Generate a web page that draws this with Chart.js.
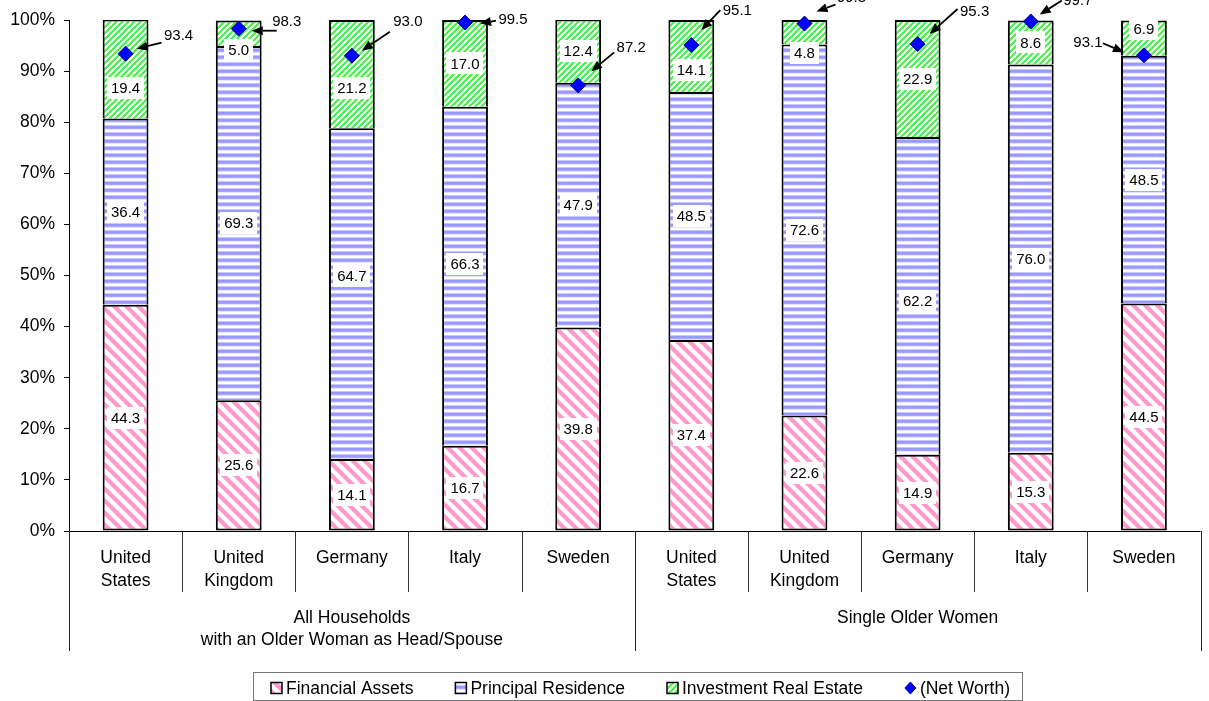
<!DOCTYPE html>
<html>
<head>
<meta charset="utf-8">
<script src="https://cdn.jsdelivr.net/npm/chart.js@4.4.1/dist/chart.umd.min.js"></script>
<style>
  html, body { margin: 0; padding: 0; background: #fff; }
  #wrap { width: 1209px; height: 701px; position: relative; }
</style>
</head>
<body>
<div id="wrap"><canvas id="c" width="1209" height="701"></canvas></div>
<script>
// Country categories (two panels of five countries each)
const categories = [
  ["United", "States"], ["United", "Kingdom"], ["Germany"], ["Italy"], ["Sweden"],
  ["United", "States"], ["United", "Kingdom"], ["Germany"], ["Italy"], ["Sweden"]
];
const groupLabels = [
  ["All Households", "with an Older Woman as Head/Spouse"],
  ["Single Older Women"]
];
const groupSizes = [5, 5];

// Asset composition, percent of total assets
const financialAssets    = [44.3, 25.6, 14.1, 16.7, 39.8, 37.4, 22.6, 14.9, 15.3, 44.5];
const principalResidence = [36.4, 69.3, 64.7, 66.3, 47.9, 48.5, 72.6, 62.2, 76.0, 48.5];
const investmentRealEst  = [19.4, 5.0, 21.2, 17.0, 12.4, 14.1, 4.8, 22.9, 8.6, 6.9];
const netWorth           = [93.4, 98.3, 93.0, 99.5, 87.2, 95.1, 99.3, 95.3, 99.7, 93.1];

const yTicks = [0, 10, 20, 30, 40, 50, 60, 70, 80, 90, 100];

const FONT = '"Liberation Sans", Arial, sans-serif';

// ---------- fill patterns ----------
function makePattern(w, h, paint) {
  const c = document.createElement('canvas');
  c.width = w; c.height = h;
  const g = c.getContext('2d');
  g.fillStyle = '#fff';
  g.fillRect(0, 0, w, h);
  paint(g, w, h);
  return g.createPattern(c, 'repeat');
}
const ctxMain = document.getElementById('c').getContext('2d');

// pink "\" diagonal stripes
const pinkPattern = makePattern(12, 12, (g, w, h) => {
  g.strokeStyle = '#FF99CC';
  g.lineWidth = 4.2;
  for (let k = -1; k <= 1; k++) {
    g.beginPath();
    g.moveTo(k * w - 2, -2);
    g.lineTo(k * w + w + 2, h + 2);
    g.stroke();
  }
});
// blue horizontal stripes
const bluePattern = makePattern(8, 7, (g, w, h) => {
  const rows = ['#9999FF', '#9999FF', '#A8A8FF', '#E4E4FF', '#FFFFFF', '#FFFFFF', '#C8C8FF'];
  rows.forEach((col, i) => { g.fillStyle = col; g.fillRect(0, i, w, 1); });
});
// green "/" diagonal stripes
const greenPattern = makePattern(6, 6, (g, w, h) => {
  g.strokeStyle = '#44EE44';
  g.lineWidth = 2;
  for (let k = -1; k <= 1; k++) {
    g.beginPath();
    g.moveTo(k * w - 1, h + 1);
    g.lineTo(k * w + w + 1, -1);
    g.stroke();
  }
});

// ---------- plugins ----------
const segmentLabels = {
  id: 'segmentLabels',
  afterDatasetDraw(chart, args, opts) {
    // draw once, after the last bar dataset has been painted
    if (args.index !== 0) return;
    const ctx = chart.ctx;
    ctx.save();
    ctx.font = '15px ' + FONT;
    ctx.textAlign = 'center';
    ctx.textBaseline = 'middle';
    [0, 1, 2].forEach(di => {
      const meta = chart.getDatasetMeta(di);
      const data = chart.data.datasets[di].data;
      meta.data.forEach((el, j) => {
        const txt = data[j].toFixed(1);
        const shift = opts.shift[di + '-' + j] || 0;
        const x = el.x;
        const y = (el.y + el.base) / 2 + shift;
        const tw = ctx.measureText(txt).width;
        ctx.fillStyle = '#fff';
        ctx.fillRect(Math.round(x - tw / 2 - 4), Math.round(y - 11), Math.round(tw + 8), 22);
        ctx.fillStyle = '#000';
        ctx.fillText(txt, x, y + 1);
      });
    });
    ctx.restore();
  }
};

function arrow(ctx, x1, y1, x2, y2) {
  const ang = Math.atan2(y2 - y1, x2 - x1);
  const hl = 11, hw = 4.5;
  const bx = x2 - hl * Math.cos(ang), by = y2 - hl * Math.sin(ang);
  ctx.beginPath();
  ctx.moveTo(x1, y1);
  ctx.lineTo(bx, by);
  ctx.stroke();
  ctx.beginPath();
  ctx.moveTo(x2, y2);
  ctx.lineTo(bx + hw * Math.sin(ang), by - hw * Math.cos(ang));
  ctx.lineTo(bx - hw * Math.sin(ang), by + hw * Math.cos(ang));
  ctx.closePath();
  ctx.fill();
}

const netWorthCallouts = {
  id: 'netWorthCallouts',
  afterDraw(chart, args, opts) {
    const ctx = chart.ctx;
    const meta = chart.getDatasetMeta(3);
    const data = chart.data.datasets[3].data;
    ctx.save();
    ctx.font = '15px ' + FONT;
    ctx.textAlign = 'center';
    ctx.textBaseline = 'middle';
    ctx.fillStyle = '#000';
    ctx.strokeStyle = '#000';
    ctx.lineWidth = 1.8;
    meta.data.forEach((pt, j) => {
      const o = opts.offsets[j];
      ctx.fillText(data[j].toFixed(1), pt.x + o.text[0], pt.y + o.text[1]);
      arrow(ctx, pt.x + o.from[0], pt.y + o.from[1], pt.x + o.to[0], pt.y + o.to[1]);
    });
    ctx.restore();
  }
};

const categoryAxis = {
  id: 'categoryAxis',
  afterDraw(chart) {
    const ctx = chart.ctx;
    const area = chart.chartArea;
    const xs = chart.scales.x;
    const n = categories.length;
    const step = (area.right - area.left) / n;
    ctx.save();
    // baseline
    ctx.strokeStyle = '#000';
    ctx.lineWidth = 1;
    ctx.beginPath();
    ctx.moveTo(area.left, area.bottom + 0.5);
    ctx.lineTo(area.right, area.bottom + 0.5);
    ctx.stroke();
    // separators between countries and between panels
    let groupBounds = [0];
    groupSizes.reduce((acc, s) => { acc += s; groupBounds.push(acc); return acc; }, 0);
    for (let i = 0; i <= n; i++) {
      const x = Math.round(area.left + i * step) + 0.5;
      const isGroup = groupBounds.includes(i);
      ctx.strokeStyle = isGroup ? '#222' : '#333';
      ctx.beginPath();
      ctx.moveTo(x, area.bottom);
      ctx.lineTo(x, area.bottom + (isGroup ? 120 : 61));
      ctx.stroke();
    }
    // country names
    ctx.fillStyle = '#000';
    ctx.font = '17.5px ' + FONT;
    ctx.textAlign = 'center';
    ctx.textBaseline = 'middle';
    categories.forEach((lines, i) => {
      const x = xs.getPixelForValue(i);
      lines.forEach((t, k) => ctx.fillText(t, x, area.bottom + 27 + k * 23));
    });
    // panel names
    let start = 0;
    groupLabels.forEach((lines, g) => {
      const end = start + groupSizes[g];
      const x = area.left + (start + end) / 2 * step;
      lines.forEach((t, k) => ctx.fillText(t, x, area.bottom + 87 + k * 22));
      start = end;
    });
    ctx.restore();
  }
};

const boxLegend = {
  id: 'boxLegend',
  afterDraw(chart) {
    const ctx = chart.ctx;
    ctx.save();
    ctx.font = '17.5px ' + FONT;
    ctx.textBaseline = 'middle';
    const top = 672, bottom = 700, left = 253, right = 1022;
    ctx.strokeStyle = '#777';
    ctx.lineWidth = 1;
    ctx.strokeRect(left + 0.5, top + 0.5, right - left, bottom - top);
    const items = chart.data.datasets.map(d => d.label);
    const swatch = 11, gapText = 4;
    const widths = items.map(t => swatch + gapText + ctx.measureText(t).width);
    const startX = 271, endX = 1010;
    const gap = (endX - startX - widths.reduce((a, b) => a + b, 0)) / (items.length - 1);
    let x = startX;
    const cy = 688;
    items.forEach((t, i) => {
      if (i < 3) {
        const fills = [pinkPattern, bluePattern, greenPattern];
        ctx.fillStyle = fills[i];
        ctx.fillRect(x, cy - swatch / 2, swatch, swatch);
        ctx.strokeStyle = '#000';
        ctx.lineWidth = 1.5;
        ctx.strokeRect(x, cy - swatch / 2, swatch, swatch);
      } else {
        ctx.fillStyle = '#0000FF';
        ctx.strokeStyle = '#000080';
        ctx.lineWidth = 1;
        ctx.beginPath();
        ctx.moveTo(x + 5.5, cy - 6);
        ctx.lineTo(x + 11, cy);
        ctx.lineTo(x + 5.5, cy + 6);
        ctx.lineTo(x, cy);
        ctx.closePath();
        ctx.fill();
        ctx.stroke();
      }
      ctx.fillStyle = '#000';
      ctx.fillText(t, x + swatch + gapText, cy + 1);
      x += widths[i] + gap;
    });
    ctx.restore();
  }
};

// ---------- chart ----------
const barBase = {
  type: 'bar',
  borderColor: '#000',
  borderWidth: 2,
  barPercentage: 0.405,
  categoryPercentage: 1,
  stack: 'assets',
  order: 1
};

new Chart(ctxMain, {
  type: 'bar',
  data: {
    labels: categories.map(c => c.join(' ')),
    datasets: [
      // the lowest segment is outlined on every side; upper segments skip their
      // bottom edge so each boundary is a single line
      Object.assign({}, barBase, { label: 'Financial Assets', data: financialAssets, backgroundColor: pinkPattern, borderSkipped: false }),
      Object.assign({}, barBase, { label: 'Principal Residence', data: principalResidence, backgroundColor: bluePattern, borderSkipped: 'start' }),
      Object.assign({}, barBase, { label: 'Investment Real Estate', data: investmentRealEst, backgroundColor: greenPattern, borderSkipped: 'start' }),
      {
        type: 'line',
        label: '(Net Worth)',
        data: netWorth,
        showLine: false,
        pointStyle: 'rectRot',
        pointRadius: 7.5,
        pointHoverRadius: 7.5,
        pointBackgroundColor: '#0000FF',
        pointBorderColor: '#000080',
        pointBorderWidth: 1,
        clip: false,
        order: 0
      }
    ]
  },
  options: {
    responsive: false,
    animation: false,
    events: [],
    layout: { padding: { top: 20, right: 5, bottom: 170, left: 0 } },
    scales: {
      x: {
        display: false,
        stacked: true
      },
      y: {
        stacked: true,
        min: 0,
        max: 100,
        afterFit(scale) { scale.width = 69; },
        afterBuildTicks(scale) { scale.ticks = yTicks.map(v => ({ value: v })); },
        ticks: {
          padding: 9,
          color: '#000',
          font: { family: FONT, size: 17.5 },
          callback: v => v + '%'
        },
        grid: { drawOnChartArea: false, drawTicks: true, tickLength: 5, color: '#000' },
        border: { color: '#000', width: 1 }
      }
    },
    plugins: {
      legend: { display: false },
      tooltip: { enabled: false },
      segmentLabels: {
        shift: { '2-0': 19, '2-1': 17, '2-2': 14, '2-5': 14, '2-6': 21, '2-9': -9, '1-2': -18, '1-3': -12, '1-7': 5 }
      },
      netWorthCallouts: {
        offsets: [
          { text: [53, -18], from: [36, -11], to: [11, -5] },
          { text: [48, -7],  from: [38, 2],   to: [13, 2] },
          { text: [56, -34], from: [38, -24], to: [10, -5] },
          { text: [48, -3],  from: [31, -2],  to: [15, 1] },
          { text: [53, -38], from: [36, -33], to: [13, -14] },
          { text: [46, -34], from: [29, -35], to: [10, -15] },
          { text: [47, -26], from: [31, -19], to: [12, -12] },
          { text: [57, -32], from: [40, -35], to: [12, -10] },
          { text: [47, -21], from: [31, -21], to: [9, -7] },
          { text: [-56, -12], from: [-41, -12], to: [-20, -3] }
        ]
      }
    }
  },
  plugins: [segmentLabels, netWorthCallouts, categoryAxis, boxLegend]
});
</script>
</body>
</html>
